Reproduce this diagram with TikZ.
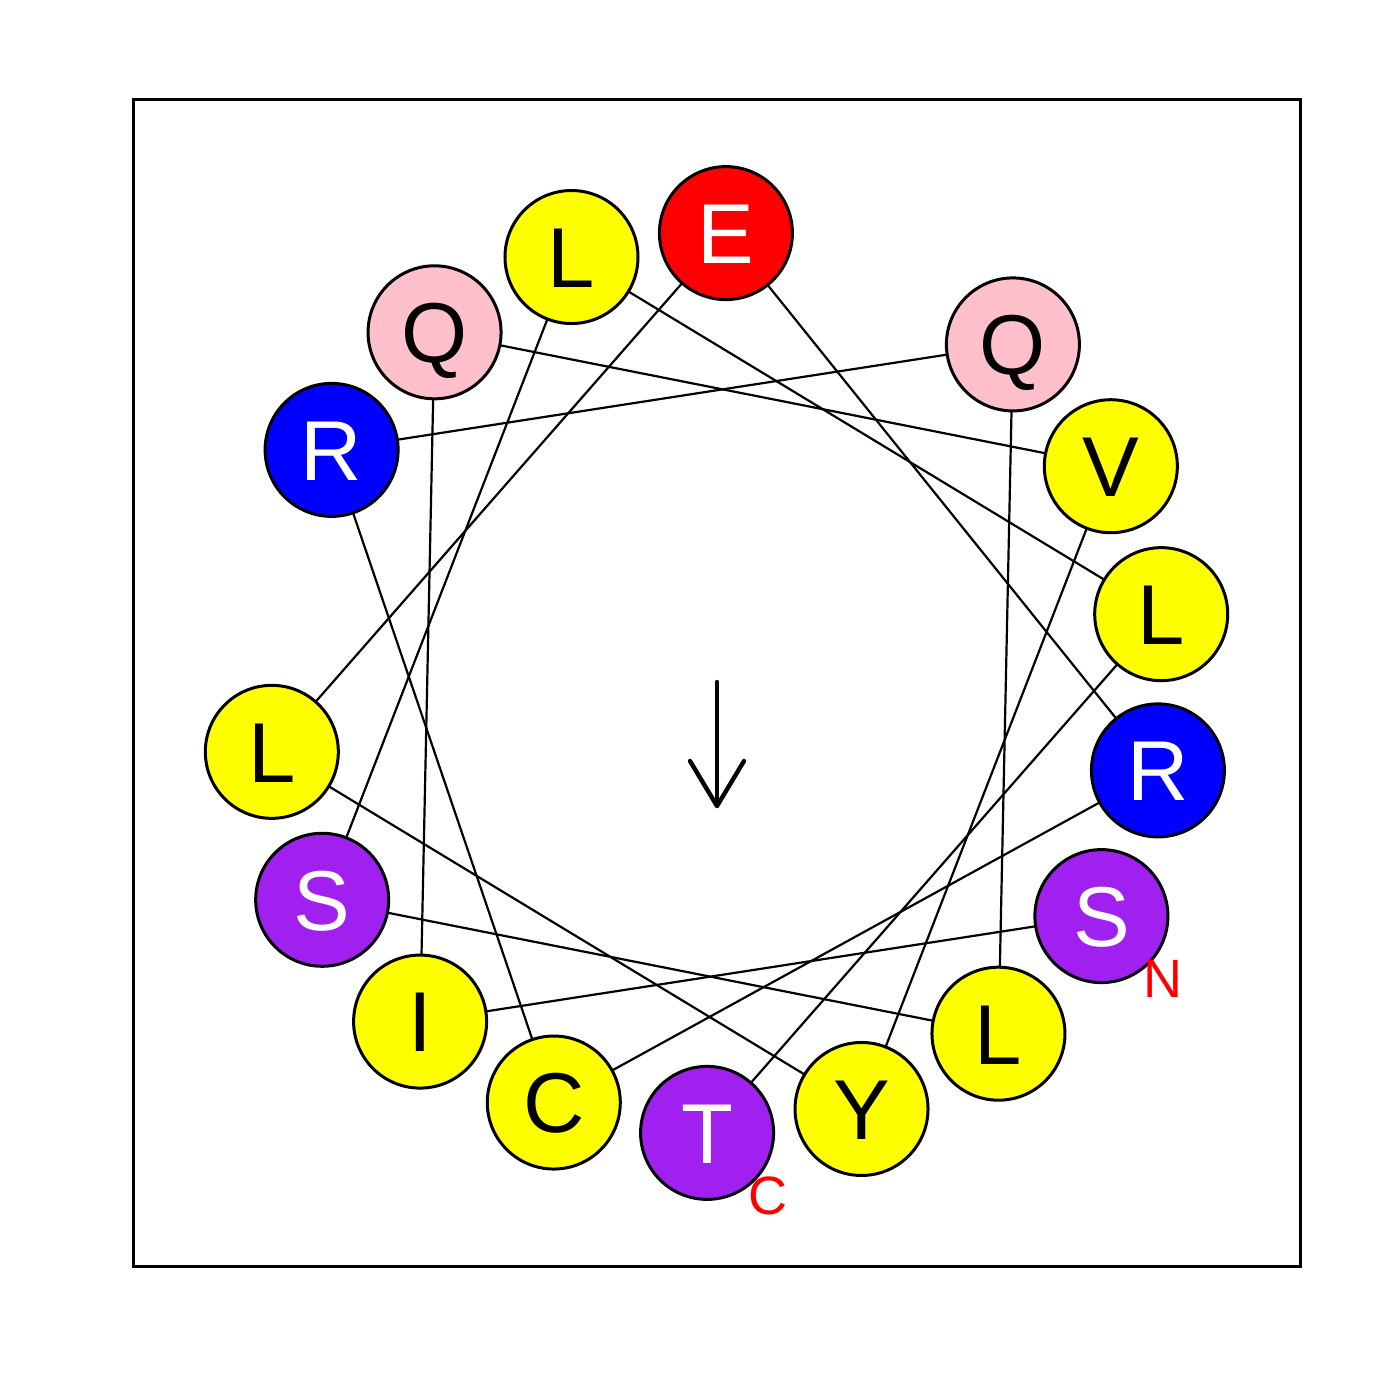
\documentclass[tikz,border=0pt]{standalone}
\usepackage{fontspec}
\setmainfont{Liberation Sans}
\usetikzlibrary{backgrounds}
\definecolor{rpurple}{RGB}{160,32,240}
\definecolor{rpink}{RGB}{255,192,203}
\definecolor{ryellow}{RGB}{255,255,0}
\definecolor{rred}{RGB}{255,0,0}
\definecolor{rblue}{RGB}{0,0,255}
\definecolor{rnlab}{RGB}{255,0,0}
\tikzset{
  res/.style={circle, draw=black, line width=1.5pt, minimum size=66.5pt, inner sep=0pt,
    font=\fontsize{42.5pt}{42.5pt}\selectfont, text height=30.4pt, text depth=0pt},
  termlab/.style={text=rnlab, inner sep=0pt, font=\fontsize{27pt}{27pt}\selectfont,
    text height=19.4pt, text depth=0pt},
  helixline/.style={line width=1.1pt, black},
  framebox/.style={line width=1.5pt, black},
  momentarrow/.style={line width=2.2pt, black, line cap=round, line join=round}
}

\begin{document}

\begin{tikzpicture}[x=0.5pt,y=-0.5pt]
\useasboundingbox (0,0) rectangle (1400,1400);
\draw[framebox] (133,100) rectangle (1300,1266);
\foreach \k/\l/\f/\t in {0/S/rpurple/white, 1/I/ryellow/black, 2/Q/rpink/black, 3/V/ryellow/black,
  4/Y/ryellow/black, 5/L/ryellow/black, 6/E/rred/white, 7/R/rblue/white, 8/C/ryellow/black,
  9/R/rblue/white, 10/Q/rpink/black, 11/L/ryellow/black, 12/S/rpurple/white, 13/L/ryellow/black,
  14/L/ryellow/black, 15/T/rpurple/white} {
  \pgfmathsetmacro\ang{121.2+100*\k}
  \node[res, fill=\f, text=\t] (r\k) at ({716.5+450*sin(\ang)},{683-450*cos(\ang)}) {\l};
}
\begin{scope}[on background layer]
\foreach \k [evaluate=\k as \n using int(\k+1)] in {0,...,14}
  \draw[helixline] (r\k.center) -- (r\n.center);
\end{scope}
\node[termlab] (nterm) at ([shift={(62,62)}]r0.center) {N};
\node[termlab] (cterm) at ([shift={(61,62)}]r15.center) {C};
\coordinate (a0) at (717,682);
\coordinate (a1) at (717,806);
\draw[momentarrow] (a0) -- (a1);
\draw[momentarrow] ([shift={(-27,-45)}]a1) -- (a1) -- ([shift={(27,-45)}]a1);
\end{tikzpicture}

\end{document}
